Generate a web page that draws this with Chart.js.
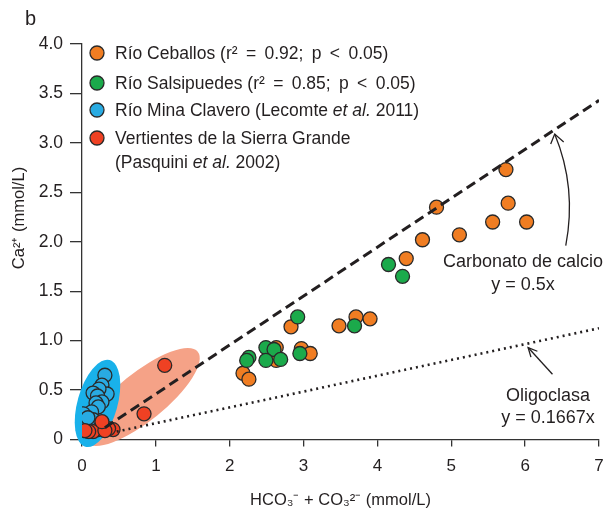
<!DOCTYPE html>
<html><head><meta charset="utf-8">
<script src="https://cdn.jsdelivr.net/npm/chart.js@4.4.0/dist/chart.umd.min.js"></script>
<style>html,body{margin:0;padding:0;background:#fff;}canvas{display:block;}</style>
</head><body>
<canvas id="c" width="606" height="510"></canvas>
<script>
// ---- data ----
const ceballosX = [5.74,5.77,5.56,6.02,5.11,4.80,4.61,4.39,3.71,3.48,3.90,2.83,2.63,2.63,2.97,3.09,2.18,2.26];
const ceballosY = [2.73,2.39,2.20,2.20,2.07,2.35,2.02,1.83,1.24,1.15,1.22,1.14,0.93,0.80,0.92,0.87,0.67,0.61];
const salsipuedesX = [4.15,4.34,3.69,2.92,2.49,2.60,2.49,2.69,2.95,2.26,2.23];
const salsipuedesY = [1.77,1.65,1.15,1.24,0.93,0.91,0.80,0.81,0.87,0.83,0.80];
const minaClaveroX = [0.31,0.27,0.34,0.23,0.15,0.21,0.27,0.19,0.22,0.13,0.02,0.00,0.06,0.15,0.08];
const minaClaveroY = [0.65,0.55,0.46,0.51,0.47,0.44,0.38,0.37,0.33,0.28,0.26,0.16,0.15,0.20,0.22];
const vertientesX = [1.12,0.84,0.42,0.36,0.27,0.22,0.15,0.09,0.04,0.31,0.27];
const vertientesY = [0.75,0.26,0.10,0.11,0.15,0.10,0.08,0.08,0.09,0.09,0.18];
const calcioLineX = [0.31,7.0];
const calcioLineY = [0.12,3.43];
const oligoLineX = [0.47,7.0];
const oligoLineY = [0.08,1.125];
const xTickValues = [0,1,2,3,4,5,6,7];
const yTickValues = [0,0.5,1.0,1.5,2.0,2.5,3.0,3.5,4.0];
const seriesNames = [
  [{t:'Río Ceballos '},{t:'(r² = 0.92; p < 0.05)',s:true}],
  [{t:'Río Salsipuedes '},{t:'(r² = 0.85; p < 0.05)',s:true}],
  [{t:'Río Mina Clavero (Lecomte '},{t:'et al.',i:true},{t:' 2011)'}],
  [{t:'Vertientes de la Sierra Grande'}],
  [{t:'(Pasquini '},{t:'et al.',i:true},{t:' 2002)'}]
];
const xTitle = 'HCO₃⁻ + CO₃²⁻ (mmol/L)';
const yTitle = 'Ca²⁺ (mmol/L)';
const panelLabel = 'b';
const calcioLabel = ['Carbonato de calcio','y = 0.5x'];
const oligoLabel = ['Oligoclasa','y = 0.1667x'];

const FONT = "'Liberation Sans', Arial, Helvetica, sans-serif";
const TXT = '#231f20';
const COL = {orange:'#f07d22', green:'#1baa4b', blue:'#29abe2', red:'#ef4123'};
const pts = (xs,ys)=>xs.map((x,i)=>({x, y:ys[i]}));

function pointSet(label, xs, ys, color, order){
  return {label, data:pts(xs,ys), backgroundColor:color, borderColor:'#2a2a2a',
    borderWidth:1.3, pointRadius:7, pointHoverRadius:7, order};
}

const deco = {
  id:'deco',
  beforeDatasetsDraw(chart){
    const {ctx, scales:{x,y}} = chart;
    ctx.save();
    ctx.fillStyle = '#f5a287';
    ctx.beginPath();
    ctx.ellipse(x.getPixelForValue(0.81), y.getPixelForValue(0.43), 72, 24, -39*Math.PI/180, 0, Math.PI*2);
    ctx.fill();
    ctx.fillStyle = '#19b1ea';
    ctx.beginPath();
    ctx.ellipse(x.getPixelForValue(0.21), y.getPixelForValue(0.365), 45, 20, -74.3*Math.PI/180, 0, Math.PI*2);
    ctx.fill();
    ctx.restore();
  },
  afterDraw(chart){
    const {ctx, scales:{x,y}} = chart;
    ctx.save();
    ctx.fillStyle = TXT;
    ctx.textBaseline = 'alphabetic';
    ctx.font = '20px ' + FONT;
    ctx.textAlign = 'left';
    ctx.fillText(panelLabel, 25, 25);
    ctx.save();
    ctx.translate(19, 218);
    ctx.rotate(-Math.PI/2);
    ctx.font = '16.5px ' + FONT;
    ctx.textAlign = 'center';
    ctx.textBaseline = 'middle';
    ctx.fillText(yTitle, 0, 0);
    ctx.restore();
    const rows = [53, 83, 110, 138, 162];
    const cols = [COL.orange, COL.green, COL.blue, COL.red, null];
    ctx.textBaseline = 'middle';
    rows.forEach((ry, k)=>{
      if (cols[k]) {
        ctx.beginPath();
        ctx.arc(97, ry, 7, 0, Math.PI*2);
        ctx.fillStyle = cols[k]; ctx.fill();
        ctx.lineWidth = 1.3; ctx.strokeStyle = '#2a2a2a'; ctx.stroke();
      }
      let tx = 115;
      ctx.fillStyle = TXT;
      seriesNames[k].forEach(seg=>{
        ctx.font = (seg.i ? 'italic ' : '') + '17.5px ' + FONT;
        ctx.wordSpacing = seg.s ? '3.5px' : '0px';
        ctx.textAlign = 'left';
        ctx.fillText(seg.t, tx, ry+1);
        tx += ctx.measureText(seg.t).width;
      });
    });
    ctx.wordSpacing = '0px';
    ctx.font = '18px ' + FONT;
    ctx.textAlign = 'center';
    ctx.fillText(calcioLabel[0], x.getPixelForValue(5.97), y.getPixelForValue(1.79));
    ctx.fillText(calcioLabel[1], x.getPixelForValue(5.97), y.getPixelForValue(1.56));
    ctx.fillText(oligoLabel[0], x.getPixelForValue(6.31), y.getPixelForValue(0.44));
    ctx.fillText(oligoLabel[1], x.getPixelForValue(6.31), y.getPixelForValue(0.22));
    ctx.strokeStyle = '#231f20'; ctx.lineWidth = 1.3;
    const p = (a,b)=>[x.getPixelForValue(a), y.getPixelForValue(b)];
    const [t1x,t1y] = p(6.40,3.09), [c1x,c1y] = p(6.70,2.55), [e1x,e1y] = p(6.55,1.96);
    ctx.beginPath(); ctx.moveTo(e1x,e1y); ctx.quadraticCurveTo(c1x,c1y,t1x,t1y); ctx.stroke();
    ctx.beginPath(); ctx.moveTo(t1x-4,t1y+10); ctx.lineTo(t1x,t1y); ctx.lineTo(t1x+9,t1y+8); ctx.stroke();
    const [t2x,t2y] = p(6.04,0.93), [e2x,e2y] = p(6.37,0.66);
    ctx.beginPath(); ctx.moveTo(e2x,e2y); ctx.lineTo(t2x,t2y); ctx.stroke();
    const ang = Math.atan2(e2y-t2y, e2x-t2x);
    ctx.beginPath();
    ctx.moveTo(t2x+10*Math.cos(ang-0.45), t2y+10*Math.sin(ang-0.45));
    ctx.lineTo(t2x,t2y);
    ctx.lineTo(t2x+10*Math.cos(ang+0.45), t2y+10*Math.sin(ang+0.45));
    ctx.stroke();
    ctx.restore();
  }
};

new Chart(document.getElementById('c'), {
  type:'scatter',
  data:{datasets:[
    {type:'line', label:'Carbonato de calcio', data:pts(calcioLineX,calcioLineY), showLine:true,
     borderColor:'#231f20', borderWidth:3, borderDash:[10,5.5], pointRadius:0, fill:false, order:0},
    {type:'line', label:'Oligoclasa', data:pts(oligoLineX,oligoLineY), showLine:true,
     borderColor:'#231f20', borderWidth:2.6, borderDash:[2,4], pointRadius:0, fill:false, order:1},
    pointSet('Vertientes de la Sierra Grande', vertientesX, vertientesY, COL.red, 2),
    pointSet('Río Mina Clavero', minaClaveroX, minaClaveroY, COL.blue, 3),
    pointSet('Río Salsipuedes', salsipuedesX, salsipuedesY, COL.green, 4),
    pointSet('Río Ceballos', ceballosX, ceballosY, COL.orange, 5)
  ]},
  options:{
    responsive:false, animation:false, events:[],
    layout:{padding:{left:0, right:7, top:44, bottom:0}, autoPadding:false},
    plugins:{legend:{display:false}, tooltip:{enabled:false}},
    scales:{
      x:{type:'linear', min:0, max:7,
        afterBuildTicks:(s)=>{s.ticks = xTickValues.map(v=>({value:v}));},
        afterFit:(s)=>{s.height = 70.5; s.paddingLeft = 0; s.paddingRight = 0;},
        ticks:{font:{family:FONT,size:17}, color:TXT, padding:10, maxRotation:0, callback:(v)=>String(v)},
        grid:{display:true, drawOnChartArea:false, drawTicks:true, tickLength:7, color:'#333', lineWidth:1.3},
        border:{display:true, color:'#333', width:1.3},
        title:{display:true, text:xTitle, font:{family:FONT,size:16.5}, color:TXT, padding:{top:6,bottom:0}}
      },
      y:{type:'linear', min:0, max:4,
        afterBuildTicks:(s)=>{s.ticks = yTickValues.map(v=>({value:v}));},
        afterFit:(s)=>{s.width = 82; s.paddingTop = 0; s.paddingBottom = 0;},
        ticks:{font:{family:FONT,size:17.5}, color:TXT, padding:7, callback:(v)=> v===0 ? '0' : v.toFixed(1)},
        grid:{display:true, drawOnChartArea:false, drawTicks:true, tickLength:12, color:'#333', lineWidth:1.3},
        border:{display:true, color:'#333', width:1.3}
      }
    }
  },
  plugins:[deco]
});
</script>
</body></html>
